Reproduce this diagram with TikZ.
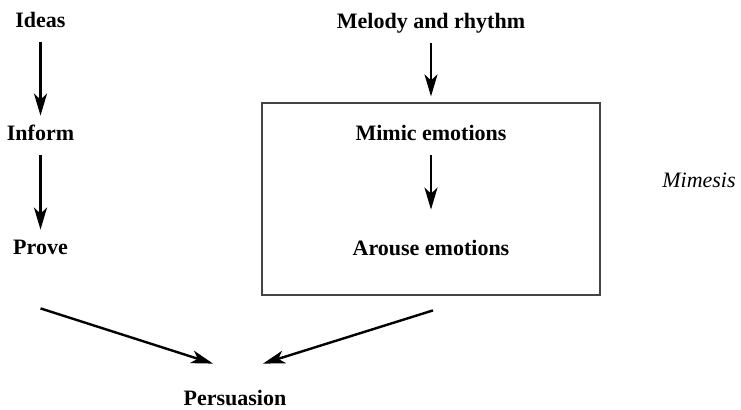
\documentclass[tikz,border=0pt]{standalone}
\usepackage{fontspec}
\setmainfont{Liberation Serif}
\usetikzlibrary{arrows.meta, positioning, calc}
\definecolor{boxgray}{HTML}{444444}

\begin{document}
\begin{tikzpicture}[x=0.5pt, y=-0.5pt,
    label/.style={font=\fontsize{11}{13}\selectfont\bfseries, inner sep=0pt, text height=8pt, text depth=2.5pt, anchor=base},
    flow/.style={-{Stealth[length=11pt, width=6.5pt, inset=3pt]}, line width=1.2pt, shorten <=5pt, shorten >=4pt}]
  \useasboundingbox (0,0) rectangle (741,409);

  % Columna izquierda
  \node[label] (ideas) at (40.5,27) {Ideas};
  \node[label] (inform) at (40.5,140) {Inform};
  \node[label] (prove) at (40.5,254) {Prove};

  % Columna derecha
  \node[label] (melody) at (431,28) {Melody and rhythm};
  \node[draw=boxgray, line width=0.6pt, minimum width=169pt, minimum height=96pt, inner sep=0pt] (box) at (431,199) {};
  \node[label] (mimic) at (431,140) {Mimic emotions};
  \node[label] (arouse) at (431,255) {Arouse emotions};
  \node[label, font=\fontsize{11}{13}\selectfont\itshape] (mimesis) at (699,187) {Mimesis};

  % Resultado
  \node[label] (persuasion) at (235,405) {Persuasion};

  % Flechas
  \draw[flow] (ideas) -- (inform);
  \draw[flow] (inform) -- (prove);
  \draw[flow, shorten >=3pt] (melody) -- (box.north);
  \draw[flow, shorten >=14.5pt] (mimic) -- (arouse);
  \draw[flow, shorten <=0pt, shorten >=0pt] ([yshift=-24.5pt]prove.south) -- ([xshift=-11pt, yshift=12.5pt]persuasion.north);
  \draw[flow, shorten <=0pt, shorten >=0pt] ([xshift=1pt, yshift=-25pt]arouse.south) -- ([xshift=14pt, yshift=12.5pt]persuasion.north);
\end{tikzpicture}
\end{document}
